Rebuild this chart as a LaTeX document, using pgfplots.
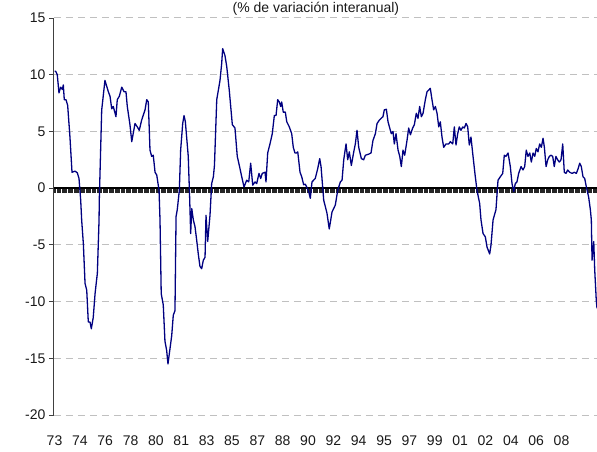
\documentclass[border=0pt]{standalone}
\usepackage{pgfplots}
\usepackage{pgfplotstable}
\pgfplotsset{compat=1.18}
\usepackage{fontspec}
\setmainfont{Liberation Sans}
\definecolor{serie}{RGB}{0,0,128}
\definecolor{gridgray}{RGB}{192,192,192}

\pgfplotstableread{
m v
0 10.3
1.0 10.3
2.3 10.0
3.7 8.4
5.1 8.9
6.5 8.7
7.3 9.1
8.1 7.8
9.5 7.8
10.9 7.3
12.8 4.5
14.5 1.4
17.0 1.5
18.9 1.35
20.3 0.85
21.7 -1.06
22.5 -2.8
23.9 -4.9
25.3 -8.4
26.7 -9.0
28.0 -11.8
29.4 -11.8
30.5 -12.4
32.1 -11.4
33.6 -9.3
35.5 -7.5
36.9 -2.8
37.1 -1.06
39.1 6.9
41.8 9.5
44.6 8.5
46.0 8.1
47.4 7.0
48.7 7.2
50.9 6.3
52.0 7.8
53.7 8.1
55.7 8.9
57.6 8.5
59.2 8.5
60.3 7.2
62.5 5.6
64.0 4.1
66.7 5.7
68.6 5.4
70.2 5.1
72.2 6.0
75.0 6.9
76.4 7.8
77.7 7.6
79.1 3.35
80.5 2.8
81.8 2.9
83.3 1.4
84.7 1.15
86.6 -0.2
87.4 -2.8
88.4 -9.3
90.1 -10.3
91.5 -13.5
92.9 -14.3
94.0 -15.5
97.1 -13.0
98.4 -11.2
99.8 -10.8
100.7 -2.5
101.7 -1.9
103.4 -0.2
104.5 3.35
106.2 5.7
107.3 6.4
108.4 5.85
110.8 2.8
112.0 -1.0
112.8 -4.0
113.7 -1.8
115.0 -2.8
116.4 -3.4
117.8 -4.6
119.1 -5.8
120.5 -6.9
121.9 -7.1
123.3 -6.35
124.7 -6.1
125.5 -2.4
126.9 -4.7
128.8 -2.4
130.2 0.4
131.6 1.0
132.5 2.0
134.4 7.8
137.1 9.5
138.5 11.0
139.3 12.3
141.2 11.7
142.7 10.7
144.8 8.6
147.3 5.6
149.5 5.3
151.4 2.8
153.1 2.0
155.1 1.0
157.0 0.1
159.2 0.7
160.9 0.55
162.5 2.2
164.2 0.26
166.1 0.55
167.5 0.4
169.4 1.3
170.8 0.85
172.1 1.3
174.4 1.4
175.2 0.55
176.6 3.1
178.5 3.9
180.4 4.8
182.1 6.4
183.5 6.4
184.9 7.8
186.2 7.6
187.4 7.2
188.2 7.6
189.5 6.7
191.2 6.7
192.4 5.85
194.5 5.4
196.5 4.8
197.8 3.6
199.2 3.1
200.6 3.1
201.5 3.2
203.4 1.4
204.8 1.0
206.4 0.3
207.8 0.35
210.6 -0.3
211.9 -0.9
213.3 0.55
216.0 0.85
218.0 1.7
219.7 2.6
220.8 1.9
223.0 -1.06
225.7 -2.2
227.6 -3.6
229.9 -2.1
232.6 -1.5
234.6 -0.2
236.8 0.55
238.2 0.7
239.6 2.5
241.5 3.9
242.9 2.5
244.2 3.2
245.9 2.0
247.9 3.2
249.2 3.9
250.6 5.1
252.0 3.6
254.2 2.6
256.1 2.5
257.5 2.9
260.3 3.0
262.2 3.1
263.8 4.2
265.8 4.8
267.2 5.7
269.1 6.0
270.5 6.15
272.1 6.3
273.2 6.9
274.9 6.95
276.3 5.85
277.7 5.3
279.0 4.8
280.4 5.0
281.5 3.9
282.9 4.8
284.6 3.35
286.0 2.8
287.3 1.9
288.7 3.35
290.1 2.9
292.0 4.2
293.4 5.3
294.8 4.7
296.7 5.3
298.1 5.6
299.7 6.6
301.1 6.15
302.5 7.2
303.9 6.3
305.3 6.6
307.2 7.8
308.6 8.5
310.0 8.65
311.3 8.8
312.7 7.8
314.1 6.9
315.5 7.2
316.9 6.6
318.3 5.4
319.6 5.85
321.0 4.5
322.4 3.6
324.3 3.9
326.6 3.9
327.9 4.1
329.9 3.9
331.2 5.4
332.6 3.8
334.0 4.8
335.3 5.4
336.7 5.1
338.2 5.4
339.5 5.3
340.9 5.7
342.3 5.4
343.6 3.8
345.0 4.5
346.4 3.1
348.6 1.0
350.0 -0.2
352.2 -1.35
353.3 -2.8
355.0 -4.0
356.9 -4.3
358.3 -5.2
360.5 -5.8
361.6 -5.0
363.3 -2.8
365.7 -1.9
367.4 0.7
369.3 1.0
371.3 1.3
372.6 2.9
374.0 2.8
375.7 3.1
377.6 1.9
379.0 0.4
380.4 -0.3
381.7 0.4
383.1 0.55
384.5 1.3
386.5 1.9
388.1 1.6
389.5 1.9
390.8 3.35
392.2 2.8
393.7 3.1
395.0 2.3
396.4 3.1
397.8 2.8
399.1 3.5
400.5 3.2
401.9 3.9
403.3 3.6
404.7 4.4
405.8 3.6
407.2 1.9
408.6 2.5
409.9 2.8
411.3 2.9
412.7 2.8
414.0 1.9
415.4 2.8
416.8 2.5
418.2 2.3
419.6 2.5
421.0 3.9
422.3 1.4
423.7 1.3
425.1 1.6
426.8 1.4
428.7 1.3
430.6 1.4
432.3 1.3
433.7 1.7
435.1 2.2
436.4 1.9
437.8 1.0
439.2 0.85
440.6 0.1
442.5 -0.8
443.9 -1.9
444.7 -2.8
445.3 -6.35
446.7 -4.7
447.5 -7.2
448.8 -9.9
449.4 -10.6
}\serietable

\begin{document}
\begin{tikzpicture}
\useasboundingbox (-53.9bp,-37bp) rectangle (543.1bp,415bp);
% zero axis with monthly ticks
\begin{axis}[
  at={(0,0)}, anchor=south west, scale only axis,
  width=543.1bp, height=397bp,
  xmin=-0.5, xmax=449.4, ymin=-20, ymax=15,
  axis x line=middle, axis y line=none,
  x axis line style={-, line width=1.8bp, black},
  xtick={0,...,449}, xticklabels={},
  xtick align=outside,
  major tick length=5bp,
  xtick style={black!85, line width=0.45bp},
]
\end{axis}
% main axis
\begin{axis}[
  at={(0,0)}, anchor=south west, scale only axis,
  width=543.1bp, height=397bp,
  xmin=-0.5, xmax=449.4, ymin=-20, ymax=15,
  axis lines*=left,
  x axis line style={draw=none},
  y axis line style={line width=0.9bp, black!75},
  xtick={0,21,...,420},
  xticklabels={73,74,76,78,80,81,83,85,87,88,90,92,94,95,97,99,01,02,04,06,08},
  xtick style={draw=none},
  xticklabel style={yshift=-17bp},
  ytick={-20,-15,...,15},
  yticklabels={-20,-15,-10,-5,0,5,10,15},
  ytick align=outside,
  ytick style={line width=0.9bp, black!75},
  major tick length=5bp,
  extra y ticks={-20,-15,-10,-5,5,10,15},
  extra y tick labels={},
  extra y tick style={grid=major, major tick length=0pt},
  grid style={gridgray, dash pattern=on 7bp off 5bp, line width=1bp},
  tick label style={font=\fontsize{14bp}{16bp}\selectfont, text=black!90},
  clip=true,
]
\addplot[serie, line width=1.3bp, line join=round] table[x=m, y=v] {\serietable};
\end{axis}
\node[anchor=base, font=\fontsize{14bp}{16bp}\selectfont, text=black!90] at (262bp,402.5bp) {(\% de variación interanual)};
\end{tikzpicture}
\end{document}
